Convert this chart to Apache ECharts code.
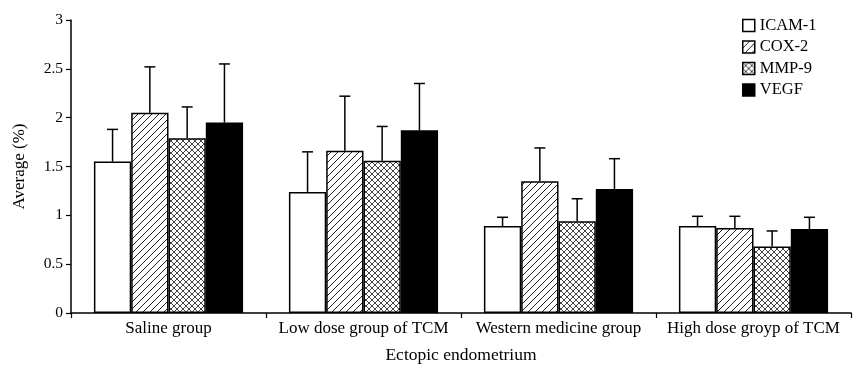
<!DOCTYPE html>
<html><head><meta charset="utf-8">
<script src="https://cdn.jsdelivr.net/npm/echarts@6/dist/echarts.min.js"></script>
<style>html,body{margin:0;padding:0;background:#fff}#c{width:862px;height:365px}</style>
</head><body><div id="c"></div>
<script>
const categories = ['Saline group', 'Low dose group of TCM', 'Western medicine group', 'High dose groyp of TCM'];
const seriesNames = ['ICAM-1', 'COX-2', 'MMP-9', 'VEGF'];
const icam = [1.55, 1.24, 0.89, 0.89];
const cox = [2.05, 1.66, 1.35, 0.87];
const mmp = [1.79, 1.56, 0.94, 0.68];
const vegf = [1.95, 1.87, 1.27, 0.86];
const icamErrTop = [1.88, 1.65, 0.98, 0.99];
const coxErrTop = [2.52, 2.22, 1.69, 0.99];
const mmpErrTop = [2.11, 1.91, 1.17, 0.84];
const vegfErrTop = [2.55, 2.35, 1.58, 0.98];
const yTicks = [0, 0.5, 1, 1.5, 2, 2.5, 3];

function makePattern(type) {
  const s = type === 'diag' ? 7 : 6;
  const c = document.createElement('canvas');
  c.width = s; c.height = s;
  const g = c.getContext('2d');
  g.fillStyle = '#fff'; g.fillRect(0, 0, s, s);
  g.strokeStyle = type === 'diag' ? '#222' : '#444';
  g.lineWidth = 1;
  g.beginPath();
  g.moveTo(-1, s + 1); g.lineTo(s + 1, -1);
  g.moveTo(-1, 1); g.lineTo(1, -1);
  g.moveTo(s - 1, s + 1); g.lineTo(s + 1, s - 1);
  if (type === 'cross') {
    g.moveTo(-1, -1); g.lineTo(s + 1, s + 1);
    g.moveTo(s - 1, -1); g.lineTo(s + 1, 1);
    g.moveTo(-1, s - 1); g.lineTo(1, s + 1);
  }
  g.stroke();
  return { image: c, repeat: 'repeat' };
}

const fills = ['#ffffff', makePattern('diag'), makePattern('cross'), '#000000'];
const values = [icam, cox, mmp, vegf];
const errTops = [icamErrTop, coxErrTop, mmpErrTop, vegfErrTop];
const catGap = 0.235;

const font = 'Liberation Serif';
const series = seriesNames.map((n, i) => ({
  name: n, type: 'bar', data: values[i],
  barGap: '0%', barCategoryGap: (catGap * 100) + '%',
  itemStyle: { color: fills[i], borderColor: '#000', borderWidth: 1.5 },
  z: 2
}));
const errData = [];
for (let s = 0; s < 4; s++) for (let c = 0; c < 4; c++) errData.push([c, values[s][c], errTops[s][c], s]);
series.push({
  type: 'custom', name: 'err', z: 1,
  data: errData,
  encode: { x: 0, y: [1, 2] },
  renderItem: function (params, api) {
    const c = api.value(0), v = api.value(1), t = api.value(2), s = api.value(3);
    const catW = api.size([1, 0])[0];
    const barW = catW * (1 - catGap) / 4;
    const cx = api.coord([c, 0])[0] + (s - 1.5) * barW;
    const y0 = api.coord([c, v])[1];
    const y1 = api.coord([c, t])[1];
    const style = { stroke: '#000', lineWidth: 1.5 };
    return { type: 'group', children: [
      { type: 'line', shape: { x1: cx, y1: y0, x2: cx, y2: y1 }, style },
      { type: 'line', shape: { x1: cx - 5.5, y1: y1, x2: cx + 5.5, y2: y1 }, style }
    ]};
  }
});

const chart = echarts.init(document.getElementById('c'), null, { renderer: 'canvas' });
chart.setOption({
  animation: false,
  backgroundColor: '#fff',
  textStyle: { fontFamily: font },
  grid: { left: 71, right: 11, top: 20, bottom: 52, containLabel: false, outerBoundsMode: 'none' },
  legend: {
    data: seriesNames, orient: 'vertical', left: 737, top: 12,
    icon: 'rect',
    itemWidth: 12, itemHeight: 12, itemGap: 4.5,
    textStyle: { fontFamily: font, fontSize: 16.5, color: '#000' },
    itemStyle: { borderColor: '#000', borderWidth: 1.5 }
  },
  xAxis: {
    type: 'category', data: categories,
    name: 'Ectopic endometrium', nameLocation: 'middle', nameGap: 33,
    nameTextStyle: { fontFamily: font, fontSize: 17.5, color: '#000' },
    axisLine: { lineStyle: { color: '#000', width: 1.5 } },
    axisTick: { show: true, interval: 0, length: 5, lineStyle: { color: '#000', width: 1.2 } },
    axisLabel: { interval: 0, fontFamily: font, fontSize: 17, color: '#000', margin: 7 }
  },
  yAxis: {
    type: 'value', min: 0, max: 3, interval: 0.5,
    name: 'Average (%)', nameLocation: 'middle', nameGap: 43,
    nameTextStyle: { fontFamily: font, fontSize: 17, color: '#000' },
    axisLine: { show: true, lineStyle: { color: '#000', width: 1.5 } },
    axisTick: { show: true, length: 5, lineStyle: { color: '#000', width: 1.2 } },
    axisLabel: { fontFamily: font, fontSize: 15.5, color: '#000', margin: 8,
      formatter: v => yTicks.indexOf(v) >= 0 ? String(v) : '' },
    splitLine: { show: false }
  },
  series
});
</script></body></html>
